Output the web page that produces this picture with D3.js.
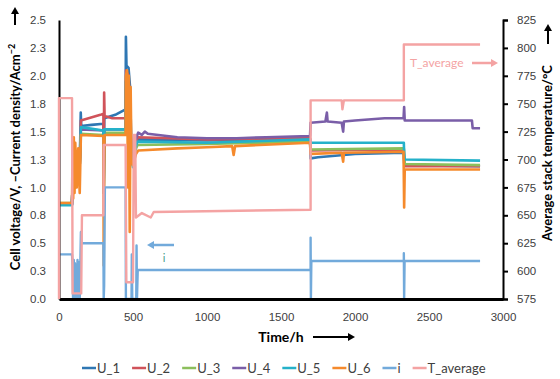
<!DOCTYPE html>
<html>
<head>
<meta charset="utf-8">
<script src="https://cdn.jsdelivr.net/npm/d3@7"></script>
<style>
  body { margin: 0; background: #fff; }
  svg { display: block; font-family: Lato, "Open Sans", sans-serif; }
</style>
</head>
<body>
<svg id="chart" width="560" height="379"></svg>
<script>
// [hours, value]
const u1 = [[0,0.85],[88,0.85],[95,1.2],[110,1.25],[140,1.2],[147,1.67],[150,1.55],[220,1.56],[300,1.57],[302,0.95],[306,1.62],[380,1.65],[450,1.70],[452,2.35],[456,2.09],[470,2.07],[480,1.9],[490,1.3],[500,1.2],[515,1.35],[530,1.43],[1000,1.42],[1696,1.44],[1700,1.26],[1750,1.27],[2000,1.30],[2330,1.31],[2332,1.22],[2336,1.20],[2845,1.19]];
const u2 = [[0,0.85],[88,0.85],[95,1.2],[110,1.25],[140,1.2],[148,1.6],[280,1.65],[300,1.66],[302,0.95],[305,1.85],[308,1.64],[360,1.62],[450,1.62],[453,2.05],[470,2.0],[490,1.3],[500,1.22],[515,1.36],[530,1.45],[1000,1.43],[1696,1.44],[1700,1.33],[2330,1.34],[2332,1.25],[2336,1.19],[2845,1.19]];
const u3 = [[0,0.86],[88,0.86],[95,1.2],[110,1.25],[140,1.2],[148,1.48],[300,1.47],[302,0.95],[306,1.49],[450,1.49],[453,1.95],[470,1.9],[490,1.28],[500,1.2],[515,1.33],[530,1.38],[1000,1.39],[1696,1.41],[1700,1.34],[2330,1.35],[2332,1.26],[2336,1.21],[2845,1.20]];
const u4 = [[0,0.85],[88,0.85],[95,1.2],[110,1.25],[140,1.2],[148,1.52],[300,1.51],[302,0.95],[306,1.52],[450,1.52],[453,1.95],[470,1.9],[490,1.3],[500,1.25],[515,1.42],[535,1.49],[560,1.47],[580,1.50],[600,1.48],[800,1.45],[1000,1.44],[1200,1.44],[1400,1.45],[1696,1.46],[1700,1.58],[1800,1.59],[1810,1.67],[1815,1.59],[1910,1.58],[1920,1.50],[1925,1.59],[2000,1.60],[2200,1.62],[2328,1.62],[2332,1.72],[2336,1.60],[2790,1.60],[2795,1.53],[2845,1.53]];
const u5 = [[0,0.84],[88,0.84],[95,1.2],[110,1.25],[140,1.2],[148,1.54],[300,1.51],[302,0.95],[306,1.52],[450,1.52],[453,1.95],[470,1.9],[490,1.27],[500,1.18],[515,1.35],[530,1.41],[1000,1.40],[1696,1.43],[1700,1.40],[2330,1.40],[2332,1.30],[2336,1.25],[2845,1.24]];
const u6 = [[0,0.86],[88,0.86],[92,1.4],[96,0.9],[100,1.45],[105,0.95],[110,1.4],[120,1.0],[130,1.35],[140,0.95],[148,1.47],[300,1.46],[302,0.3],[305,1.1],[308,1.47],[450,1.47],[452,2.0],[460,2.05],[466,1.0],[472,2.0],[478,0.6],[484,1.9],[490,1.25],[500,1.2],[520,1.3],[535,1.33],[800,1.35],[1000,1.36],[1170,1.37],[1180,1.29],[1190,1.37],[1696,1.40],[1700,1.30],[1910,1.31],[1920,1.23],[1925,1.31],[2328,1.32],[2332,0.82],[2336,1.16],[2845,1.16]];
const current = [[0,0.4],[88,0.4],[92,0.3],[95,0],[100,0.35],[104,0],[108,0.32],[112,0],[116,0.3],[120,0],[125,0.35],[130,0],[135,0.33],[140,0],[148,0.6],[152,0.5],[300,0.5],[302,0],[305,0.12],[310,1.0],[450,1.0],[452,0],[490,0],[492,0.4],[495,0],[522,0],[524,0.48],[527,0],[532,0.26],[1700,0.26],[1700,0.55],[1702,0],[1705,0.34],[2330,0.34],[2330,0.41],[2332,0],[2335,0.34],[2845,0.34]];
const tAvg = [[0,575],[0,755],[88,755],[92,580],[150,580],[155,650],[300,650],[302,713],[450,713],[455,590],[500,590],[505,722],[515,722],[520,648],[560,652],[620,648],[640,653],[1700,655],[1700,753],[1910,753],[1915,745],[1925,753],[2330,753],[2330,803],[2845,803]];

const xTicks = [0, 500, 1000, 1500, 2000, 2500, 3000];
const leftTicks = [0, 0.25, 0.5, 0.75, 1, 1.25, 1.5, 1.75, 2, 2.25, 2.5];
const leftLabels = ["0.0","0.3","0.5","0.8","1.0","1.3","1.5","1.8","2.0","2.3","2.5"];
const rightTicks = [575, 600, 625, 650, 675, 700, 725, 750, 775, 800, 825];

const seriesNames = ["U_1","U_2","U_3","U_4","U_5","U_6","i","T_average"];
const seriesColors = ["#2f77b3","#d0535a","#8cbf5c","#7a5ea8","#25b1c9","#f58a2c","#72aadb","#f4a3a3"];

const svg = d3.select("#chart");
const plotL = 59, plotR = 503, plotT = 20, plotB = 299;

const x = d3.scaleLinear().domain([0, 3000]).range([plotL, plotR]);
const yL = d3.scaleLinear().domain([0, 2.5]).range([plotB, plotT]);
const yR = d3.scaleLinear().domain([575, 825]).range([plotB, plotT]);

const lineL = d3.line().x(d => x(d[0])).y(d => yL(d[1]));
const lineR = d3.line().x(d => x(d[0])).y(d => yR(d[1]));
const uSeries = [u1, u2, u3, u4, u5, u6];

const g = svg.append("g");
uSeries.forEach((s, k) => {
  g.append("path").attr("d", lineL(s))
    .attr("fill", "none").attr("stroke", seriesColors[k])
    .attr("stroke-width", 2.6).attr("stroke-linejoin", "round");
});
g.append("path").attr("d", lineL(current))
  .attr("fill", "none").attr("stroke", seriesColors[6])
  .attr("stroke-width", 2.4).attr("stroke-linejoin", "round");

// axes
const axL = svg.append("g").attr("transform", `translate(${plotL},0)`)
  .call(d3.axisLeft(yL).tickValues(leftTicks).tickSize(0).tickPadding(13)
    .tickFormat((d, i) => leftLabels[i]));
const axB = svg.append("g").attr("transform", `translate(0,${plotB})`)
  .call(d3.axisBottom(x).tickValues(xTicks).tickSize(0).tickPadding(14).tickFormat(d3.format("d")));
const axR = svg.append("g").attr("transform", `translate(${plotR},0)`)
  .call(d3.axisRight(yR).tickValues(rightTicks).tickSize(5).tickPadding(9));

[axL, axB, axR].forEach(a => {
  a.selectAll("text").attr("fill", "#404040").style("font-size", "11.5px");
  a.selectAll(".tick line").attr("stroke", "#000").attr("stroke-width", 2);
  a.select(".domain").attr("stroke", "#000").attr("stroke-width", 2);
});
axB.select(".domain").attr("stroke-width", 3);

svg.append("path").attr("d", lineR(tAvg))
  .attr("fill", "none").attr("stroke", seriesColors[7])
  .attr("stroke-width", 2.4).attr("stroke-linejoin", "round");

// arrows
function arrow(x1, y1, x2, y2, color, w) {
  const a = Math.atan2(y2 - y1, x2 - x1), h = 7, s = 4;
  svg.append("line").attr("x1", x1).attr("y1", y1)
    .attr("x2", x2 - Math.cos(a) * h * 0.6).attr("y2", y2 - Math.sin(a) * h * 0.6)
    .attr("stroke", color).attr("stroke-width", w);
  const px = x2 - Math.cos(a) * h, py = y2 - Math.sin(a) * h;
  svg.append("path")
    .attr("d", `M${x2},${y2}L${px - Math.sin(a) * s},${py + Math.cos(a) * s}L${px + Math.sin(a) * s},${py - Math.cos(a) * s}Z`)
    .attr("fill", color);
}

// axis titles
svg.append("text").attr("x", 281).attr("y", 342)
  .attr("text-anchor", "middle").attr("font-weight", "bold").style("font-size", "14px")
  .text("Time/h");
arrow(313, 337, 355, 337, "#000", 2);

const lt = svg.append("text").attr("transform", "translate(20,157) rotate(-90)")
  .attr("text-anchor", "middle").attr("font-weight", "bold").style("font-size", "13px");
lt.append("tspan").text("Cell voltage/V, \u2013Current density/Acm");
lt.append("tspan").attr("dy", -5).style("font-size", "9px").text("\u22122");
arrow(15, 25, 15, 7, "#000", 2);

svg.append("text").attr("transform", "translate(552,153) rotate(-90)")
  .attr("text-anchor", "middle").attr("font-weight", "bold").style("font-size", "13px")
  .text("Average stack temperature/\u00B0C");
arrow(548, 44, 548, 24, "#000", 2);

// annotations
svg.append("text").attr("x", 410).attr("y", 67)
  .attr("fill", seriesColors[7]).style("font-size", "12px").text("T_average");
arrow(472, 63, 498, 63, seriesColors[7], 2.5);
arrow(174, 245, 147, 245, seriesColors[6], 2.5);
svg.append("text").attr("x", 164).attr("y", 262).attr("text-anchor", "middle")
  .attr("fill", "#4a9e8a").style("font-size", "11px").text("i");

// legend
let lx = 82;
const ly = 368;
seriesNames.forEach((name, k) => {
  svg.append("line").attr("x1", lx).attr("x2", lx + 14).attr("y1", ly).attr("y2", ly)
    .attr("stroke", seriesColors[k]).attr("stroke-width", 2.5);
  const t = svg.append("text").attr("x", lx + 15).attr("y", ly + 4.5)
    .attr("fill", "#404040").style("font-size", "13px").text(name);
  lx += 15 + t.node().getComputedTextLength() + 12;
});
</script>
</body>
</html>
